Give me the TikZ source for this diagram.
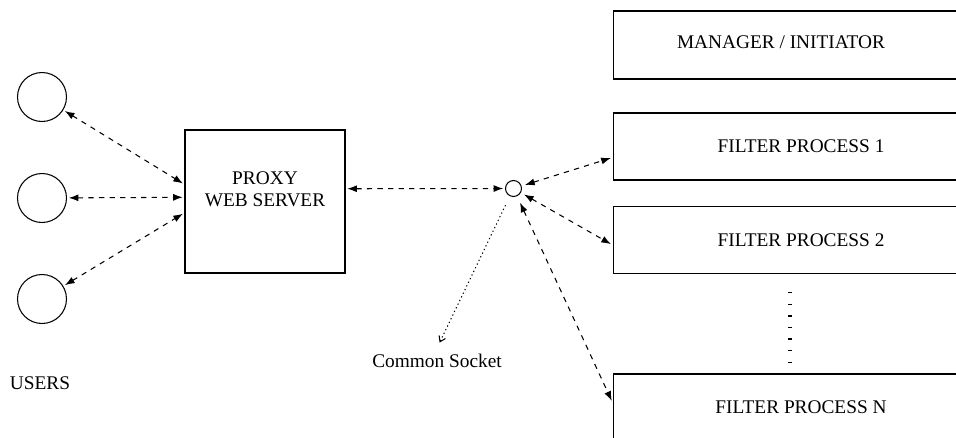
\documentclass[tikz,border=0pt]{standalone}
\usepackage{fontspec}
\setmainfont{Liberation Serif}
\usetikzlibrary{arrows.meta}
\begin{document}
\begin{tikzpicture}[x=0.02cm,y=-0.02cm,font=\fontsize{11}{12.5}\selectfont,
  box/.style={draw=black,line width=0.6pt,rectangle},
  user/.style={draw=black,line width=0.6pt,circle,minimum size=0.98cm,inner sep=0pt},
  link/.style={line width=0.6pt,dash pattern=on 3pt off 3pt,{Latex[length=5.5pt,width=4pt]}-{Latex[length=5.5pt,width=4pt]},shorten <=1pt,shorten >=1pt},
  note/.style={line width=0.6pt,dash pattern=on 0.7pt off 1.6pt,-{Straight Barb[length=3pt,width=4pt]}}]
\useasboundingbox (0,0) rectangle (956,437);
\begin{scope}
\clip (0,0) rectangle (956,437);
% users, proxy and socket
\node[user] (u1) at (42,97) {};
\node[user] (u2) at (42,198) {};
\node[user] (u3) at (42,299) {};
\node at (40,383) {USERS};
\node[box,minimum width=3.2cm,minimum height=2.86cm] (proxy) at (265,201.5) {};
\node[align=center] (ptext) at (265,189) {PROXY\\WEB SERVER};
\node[draw=black,line width=0.6pt,circle,minimum size=0.32cm,inner sep=0pt] (sock) at (513.5,188.5) {};
\node (slabel) at (437,361) {Common Socket};
% manager and filter processes
\node[box,minimum width=7.52cm,minimum height=1.36cm] (mgr) at (801,45) {\hspace*{-0.8cm}\raisebox{3pt}{MANAGER / INITIATOR}};
\node[box,minimum width=7.52cm,minimum height=1.34cm] (f1) at (801,146.5) {FILTER PROCESS 1};
\node[box,minimum width=7.52cm,minimum height=1.34cm] (f2) at (801,240) {FILTER PROCESS 2};
\node[box,minimum width=7.52cm,minimum height=1.34cm] (fn) at (801,407.5) {FILTER PROCESS N};
\draw[line width=2.4pt,dash pattern=on 0.8pt off 5.8pt] (790,292) -- (790,364);
% connections
\draw[link] (u1) -- (proxy.168);
\draw[link] (u2) -- (proxy.177);
\draw[link] (u3) -- (proxy.188);
\draw[link] (proxy.9) -- (sock);
\draw[link,shorten <=2pt] (sock) -- ([yshift=-0.22cm]f1.west);
\draw[link,shorten <=2pt] (sock) -- ([yshift=-0.1cm]f2.west);
\draw[link,shorten <=4pt] (sock) -- ([yshift=-0.58cm]fn.north west);
\draw[note,shorten <=0.2cm,shorten >=0.12cm] (sock) -- (slabel.north);
\end{scope}
\end{tikzpicture}
\end{document}
